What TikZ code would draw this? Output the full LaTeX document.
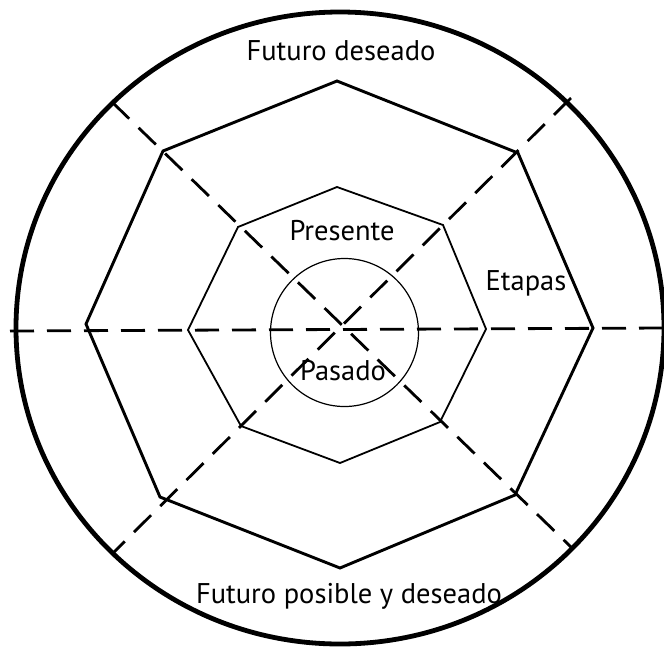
\documentclass[tikz,border=0pt]{standalone}
\usepackage{fontspec}
\setmainfont{PT Sans}
\begin{document}
\begin{tikzpicture}[x=1pt,y=-1pt,
  outerring/.style={line width=4.8pt},
  bigoct/.style={line width=2.9pt,line join=miter},
  midoct/.style={line width=1.8pt,line join=miter},
  core/.style={line width=1.2pt},
  axis/.style={line width=2.8pt,dash pattern=on 24pt off 13pt},
  lbl/.style={font=\fontsize{28.5}{32}\selectfont,anchor=base,inner sep=0pt}]
\useasboundingbox (0,0) rectangle (664,649);
% outer ring
\draw[outerring] (340,328) ellipse [x radius=324, y radius=316];
% axes end points
\coordinate (hl) at (10,331);
\coordinate (hr) at (664,328);
\coordinate (d1a) at (112,102);
\coordinate (d1b) at (572,548);
\coordinate (d2a) at (571,98);
\coordinate (d2b) at (112,554);
% outer octagon
\coordinate (o1) at (337,81);
\coordinate (o2) at (518,153);
\coordinate (o3) at (593,328);
\coordinate (o4) at (515,495);
\coordinate (o5) at (340,568);
\coordinate (o6) at (160,497);
\coordinate (o7) at (86,324);
\coordinate (o8) at (163,151);
% middle octagon
\coordinate (m1) at (337,187);
\coordinate (m2) at (443,225);
\coordinate (m3) at (486,329);
\coordinate (m4) at (440,422);
\coordinate (m5) at (340,463);
\coordinate (m6) at (241,426);
\coordinate (m7) at (188,330);
\coordinate (m8) at (238,227);
\draw[bigoct] (o1)--(o2)--(o3)--(o4)--(o5)--(o6)--(o7)--(o8)--cycle;
\draw[midoct] (m1)--(m2)--(m3)--(m4)--(m5)--(m6)--(m7)--(m8)--cycle;
\node[core,draw,circle,minimum size=148pt,inner sep=0pt] (core) at (344.5,332.5) {};
\draw[axis] (hl) -- (hr);
\draw[axis] (d1a) -- (d1b);
\draw[axis] (d2a) -- (d2b);
% labels
\node[lbl] (fd) at (341,60) {Futuro deseado};
\node[lbl] (pr) at (342,240) {Presente};
\node[lbl] (et) at (526,290) {Etapas};
\node[lbl] (pa) at (343,380) {Pasado};
\node[lbl] (fp) at (349,603) {Futuro posible y deseado};
\end{tikzpicture}
\end{document}
